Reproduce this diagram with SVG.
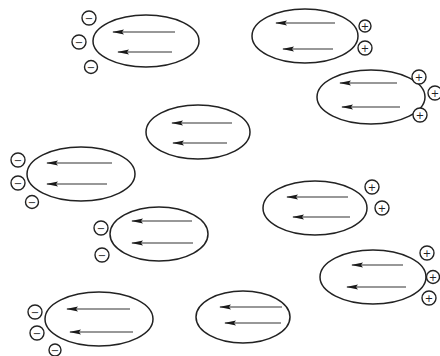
<svg xmlns="http://www.w3.org/2000/svg" width="440" height="356" viewBox="0 0 440 356">
<style>
.cell{fill:none;stroke:#222;stroke-width:1.5}
.arr{stroke:#333;stroke-width:1.2;marker-end:url(#ah)}
.chg{fill:#fff;stroke:#222;stroke-width:1.4}
.sign{font-family:"DejaVu Sans",sans-serif;font-size:10px;fill:#222;text-anchor:middle;dominant-baseline:central}
</style>
<defs>
<marker id="ah" markerWidth="12" markerHeight="6" refX="11" refY="3" orient="auto" markerUnits="userSpaceOnUse">
<path d="M0,0.6 L12,3 L0,5.4 L2,3 Z" fill="#1a1a1a"/>
</marker>
</defs>
<rect width="440" height="356" fill="#fff"/>

<g id="cell1">
<ellipse class="cell" cx="146" cy="41" rx="53" ry="26"/>
<line class="arr" x1="175" y1="32" x2="113" y2="32"/>
<line class="arr" x1="172" y1="52" x2="118" y2="52"/>
</g>
<g id="charges1">
<circle class="chg" cx="89" cy="18" r="7"/><text class="sign" x="89" y="18">−</text>
<circle class="chg" cx="79" cy="42" r="7"/><text class="sign" x="79" y="42">−</text>
<circle class="chg" cx="91" cy="67" r="6.5"/><text class="sign" x="91" y="67">−</text>
</g>

<g id="cell2">
<ellipse class="cell" cx="305" cy="36" rx="53" ry="27"/>
<line class="arr" x1="335" y1="23" x2="276" y2="23"/>
<line class="arr" x1="333" y1="49" x2="283" y2="49"/>
</g>
<g id="charges2">
<circle class="chg" cx="365" cy="26" r="6"/><text class="sign" x="365" y="26">+</text>
<circle class="chg" cx="365" cy="48" r="7"/><text class="sign" x="365" y="48">+</text>
</g>

<g id="cell3">
<ellipse class="cell" cx="371" cy="97" rx="54" ry="27"/>
<line class="arr" x1="397" y1="83" x2="340" y2="83"/>
<line class="arr" x1="400" y1="107" x2="342" y2="107"/>
</g>
<g id="charges3">
<circle class="chg" cx="419" cy="77" r="7"/><text class="sign" x="419" y="77">+</text>
<circle class="chg" cx="435" cy="93" r="7"/><text class="sign" x="435" y="93">+</text>
<circle class="chg" cx="420" cy="115" r="7"/><text class="sign" x="420" y="115">+</text>
</g>

<g id="cell4">
<ellipse class="cell" cx="198" cy="132" rx="52" ry="27"/>
<line class="arr" x1="232" y1="123" x2="172" y2="123"/>
<line class="arr" x1="227" y1="143" x2="173" y2="143"/>
</g>

<g id="cell5">
<ellipse class="cell" cx="81" cy="174" rx="54" ry="27"/>
<line class="arr" x1="112" y1="163" x2="47" y2="163"/>
<line class="arr" x1="107" y1="184" x2="47" y2="184"/>
</g>
<g id="charges5">
<circle class="chg" cx="18" cy="160" r="7"/><text class="sign" x="18" y="160">−</text>
<circle class="chg" cx="18" cy="183" r="7"/><text class="sign" x="18" y="183">−</text>
<circle class="chg" cx="32" cy="202" r="6.5"/><text class="sign" x="32" y="202">−</text>
</g>

<g id="cell6">
<ellipse class="cell" cx="159" cy="234" rx="49" ry="27"/>
<line class="arr" x1="192" y1="221" x2="132" y2="221"/>
<line class="arr" x1="193" y1="243" x2="132" y2="243"/>
</g>
<g id="charges6">
<circle class="chg" cx="101" cy="228" r="7"/><text class="sign" x="101" y="228">−</text>
<circle class="chg" cx="102" cy="255" r="7"/><text class="sign" x="102" y="255">−</text>
</g>

<g id="cell7">
<ellipse class="cell" cx="315" cy="208" rx="52" ry="27"/>
<line class="arr" x1="348" y1="197" x2="287" y2="197"/>
<line class="arr" x1="350" y1="217" x2="293" y2="217"/>
</g>
<g id="charges7">
<circle class="chg" cx="372" cy="187" r="7"/><text class="sign" x="372" y="187">+</text>
<circle class="chg" cx="382" cy="208" r="7"/><text class="sign" x="382" y="208">+</text>
</g>

<g id="cell8">
<ellipse class="cell" cx="373" cy="277" rx="53" ry="27"/>
<line class="arr" x1="403" y1="265" x2="352" y2="265"/>
<line class="arr" x1="406" y1="287" x2="347" y2="287"/>
</g>
<g id="charges8">
<circle class="chg" cx="427" cy="253" r="7"/><text class="sign" x="427" y="253">+</text>
<circle class="chg" cx="433" cy="277" r="6.5"/><text class="sign" x="433" y="277">+</text>
<circle class="chg" cx="429" cy="298" r="7"/><text class="sign" x="429" y="298">+</text>
</g>

<g id="cell9">
<ellipse class="cell" cx="99" cy="319" rx="54" ry="27"/>
<line class="arr" x1="130" y1="309" x2="67" y2="309"/>
<line class="arr" x1="133" y1="332" x2="70" y2="332"/>
</g>
<g id="charges9">
<circle class="chg" cx="35" cy="312" r="7"/><text class="sign" x="35" y="312">−</text>
<circle class="chg" cx="37" cy="333" r="7"/><text class="sign" x="37" y="333">−</text>
<circle class="chg" cx="55" cy="350" r="6"/><text class="sign" x="55" y="350">−</text>
</g>

<g id="cell10">
<ellipse class="cell" cx="243" cy="317" rx="47" ry="26"/>
<line class="arr" x1="282" y1="307" x2="220" y2="307"/>
<line class="arr" x1="281" y1="323" x2="225" y2="323"/>
</g>
</svg>
